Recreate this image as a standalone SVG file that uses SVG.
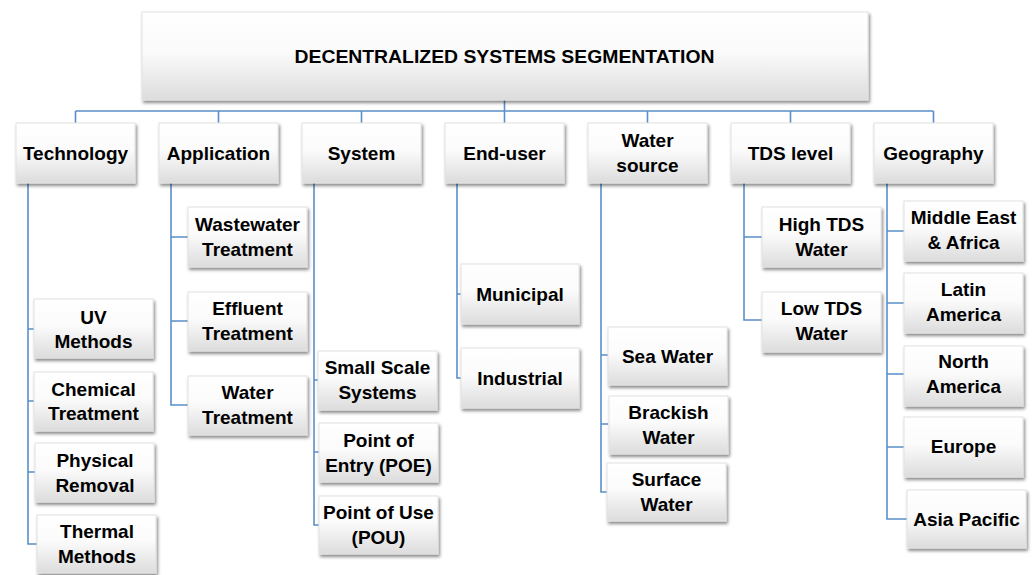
<svg xmlns="http://www.w3.org/2000/svg" width="1035" height="575" viewBox="0 0 1035 575">
  <defs>
    <linearGradient id="boxFill" x1="0" y1="0" x2="0" y2="1">
      <stop offset="0" stop-color="#ffffff"/>
      <stop offset="0.45" stop-color="#fbfbfb"/>
      <stop offset="1" stop-color="#dcdcdc"/>
    </linearGradient>
    <filter id="shadow" x="-10%" y="-10%" width="125%" height="130%">
      <feDropShadow dx="1.5" dy="2.5" stdDeviation="1.4" flood-color="#000" flood-opacity="0.45"/>
    </filter>
  </defs>
  <style>
    .box { fill: url(#boxFill); stroke: #e2e2e2; stroke-width: 1; filter: url(#shadow); }
    .lbl { font-family: "Liberation Sans", Arial, sans-serif; font-weight: bold; font-size: 19px; fill: #000; text-anchor: middle; dominant-baseline: central; }
    .title { font-size: 19px; }
    .conn { fill: none; stroke: #5b8fc9; stroke-width: 1.6; }
  </style>
  <rect width="1035" height="575" fill="#ffffff"/>

  <!-- connectors -->
  <g id="connectors" class="conn">
    <!-- root to category bar -->
    <path d="M504.5 100 V111 M75.5 111 H933.5"/>
    <path d="M75.5 111 V123 M218.5 111 V123 M361.5 111 V123 M504.5 111 V123 M647.5 111 V123 M790.5 111 V123 M933.5 111 V123"/>
    <!-- Technology -->
    <path d="M28 183 V544 H37 M28 329 H34 M28 401 H34 M28 472 H35"/>
    <!-- Application -->
    <path d="M171 183 V405 H188 M171 237 H188 M171 321 H188"/>
    <!-- System -->
    <path d="M314 183 V525 H319 M314 380 H318 M314 452 H319"/>
    <!-- End-user -->
    <path d="M457 183 V378 H461 M457 294 H461"/>
    <!-- Water source -->
    <path d="M601 183 V492 H608 M601 355 H608 M601 424 H608"/>
    <!-- TDS level -->
    <path d="M744 183 V320 H762 M744 237 H762"/>
    <!-- Geography -->
    <path d="M887 183 V519 H907 M887 231 H904 M887 303 H904 M887 374 H904 M887 447 H904"/>
  </g>

  <!-- root -->
  <g id="root">
    <rect class="box" x="142" y="12" width="726" height="88"/>
    <text class="lbl title" x="504.5" y="56" textLength="420" lengthAdjust="spacingAndGlyphs">DECENTRALIZED SYSTEMS SEGMENTATION</text>
  </g>

  <!-- categories -->
  <g id="cat-technology">
    <rect class="box" x="16" y="123" width="119" height="60"/>
    <text class="lbl" x="75.5" y="153">Technology</text>
  </g>
  <g id="cat-application">
    <rect class="box" x="159" y="123" width="119" height="60"/>
    <text class="lbl" x="218.5" y="153">Application</text>
  </g>
  <g id="cat-system">
    <rect class="box" x="302" y="123" width="119" height="60"/>
    <text class="lbl" x="361.5" y="153">System</text>
  </g>
  <g id="cat-end-user">
    <rect class="box" x="445" y="123" width="119" height="60"/>
    <text class="lbl" x="504.5" y="153">End-user</text>
  </g>
  <g id="cat-water-source">
    <rect class="box" x="588" y="123" width="119" height="60"/>
    <text class="lbl" x="647.5" y="140">Water</text>
    <text class="lbl" x="647.5" y="165">source</text>
  </g>
  <g id="cat-tds-level">
    <rect class="box" x="731" y="123" width="119" height="60"/>
    <text class="lbl" x="790.5" y="153">TDS level</text>
  </g>
  <g id="cat-geography">
    <rect class="box" x="874" y="123" width="119" height="60"/>
    <text class="lbl" x="933.5" y="153">Geography</text>
  </g>

  <!-- Technology items -->
  <g id="tech-uv">
    <rect class="box" x="34" y="299" width="119" height="59"/>
    <text class="lbl" x="93.5" y="317">UV</text>
    <text class="lbl" x="93.5" y="341">Methods</text>
  </g>
  <g id="tech-chemical">
    <rect class="box" x="34" y="372" width="119" height="59"/>
    <text class="lbl" x="93.5" y="389">Chemical</text>
    <text class="lbl" x="93.5" y="413">Treatment</text>
  </g>
  <g id="tech-physical">
    <rect class="box" x="35" y="443" width="119" height="59"/>
    <text class="lbl" x="95" y="460">Physical</text>
    <text class="lbl" x="95" y="485">Removal</text>
  </g>
  <g id="tech-thermal">
    <rect class="box" x="37" y="515" width="119" height="58"/>
    <text class="lbl" x="97" y="531">Thermal</text>
    <text class="lbl" x="97" y="556">Methods</text>
  </g>

  <!-- Application items -->
  <g id="app-wastewater">
    <rect class="box" x="188" y="207" width="119" height="60"/>
    <text class="lbl" x="247.5" y="224">Wastewater</text>
    <text class="lbl" x="247.5" y="249">Treatment</text>
  </g>
  <g id="app-effluent">
    <rect class="box" x="188" y="292" width="119" height="59"/>
    <text class="lbl" x="247.5" y="308">Effluent</text>
    <text class="lbl" x="247.5" y="333">Treatment</text>
  </g>
  <g id="app-water">
    <rect class="box" x="188" y="376" width="119" height="59"/>
    <text class="lbl" x="247.5" y="392">Water</text>
    <text class="lbl" x="247.5" y="417">Treatment</text>
  </g>

  <!-- System items -->
  <g id="sys-small-scale">
    <rect class="box" x="318" y="351" width="119" height="59"/>
    <text class="lbl" x="377.5" y="367">Small Scale</text>
    <text class="lbl" x="377.5" y="392">Systems</text>
  </g>
  <g id="sys-poe">
    <rect class="box" x="319" y="423" width="119" height="59"/>
    <text class="lbl" x="378.5" y="440">Point of</text>
    <text class="lbl" x="378.5" y="465">Entry (POE)</text>
  </g>
  <g id="sys-pou">
    <rect class="box" x="319" y="496" width="119" height="58"/>
    <text class="lbl" x="378.5" y="512">Point of Use</text>
    <text class="lbl" x="378.5" y="537">(POU)</text>
  </g>

  <!-- End-user items -->
  <g id="user-municipal">
    <rect class="box" x="461" y="264" width="118" height="60"/>
    <text class="lbl" x="520" y="294">Municipal</text>
  </g>
  <g id="user-industrial">
    <rect class="box" x="461" y="348" width="118" height="60"/>
    <text class="lbl" x="520" y="378">Industrial</text>
  </g>

  <!-- Water source items -->
  <g id="src-sea">
    <rect class="box" x="608" y="327" width="119" height="58"/>
    <text class="lbl" x="667.5" y="356">Sea Water</text>
  </g>
  <g id="src-brackish">
    <rect class="box" x="609" y="396" width="119" height="58"/>
    <text class="lbl" x="668.5" y="412">Brackish</text>
    <text class="lbl" x="668.5" y="437">Water</text>
  </g>
  <g id="src-surface">
    <rect class="box" x="607" y="463" width="119" height="58"/>
    <text class="lbl" x="666.5" y="479">Surface</text>
    <text class="lbl" x="666.5" y="504">Water</text>
  </g>

  <!-- TDS level items -->
  <g id="tds-high">
    <rect class="box" x="762" y="207" width="119" height="60"/>
    <text class="lbl" x="821.5" y="224">High TDS</text>
    <text class="lbl" x="821.5" y="249">Water</text>
  </g>
  <g id="tds-low">
    <rect class="box" x="762" y="292" width="119" height="60"/>
    <text class="lbl" x="821.5" y="308">Low TDS</text>
    <text class="lbl" x="821.5" y="333">Water</text>
  </g>

  <!-- Geography items -->
  <g id="geo-mea">
    <rect class="box" x="904" y="201" width="119" height="60"/>
    <text class="lbl" x="963.5" y="217">Middle East</text>
    <text class="lbl" x="963.5" y="242">&amp; Africa</text>
  </g>
  <g id="geo-latam">
    <rect class="box" x="904" y="273" width="119" height="60"/>
    <text class="lbl" x="963.5" y="289">Latin</text>
    <text class="lbl" x="963.5" y="314">America</text>
  </g>
  <g id="geo-na">
    <rect class="box" x="904" y="346" width="119" height="60"/>
    <text class="lbl" x="963.5" y="361">North</text>
    <text class="lbl" x="963.5" y="386">America</text>
  </g>
  <g id="geo-europe">
    <rect class="box" x="904" y="417" width="119" height="60"/>
    <text class="lbl" x="963.5" y="446">Europe</text>
  </g>
  <g id="geo-apac">
    <rect class="box" x="907" y="490" width="119" height="58"/>
    <text class="lbl" x="966.5" y="519">Asia Pacific</text>
  </g>
</svg>
